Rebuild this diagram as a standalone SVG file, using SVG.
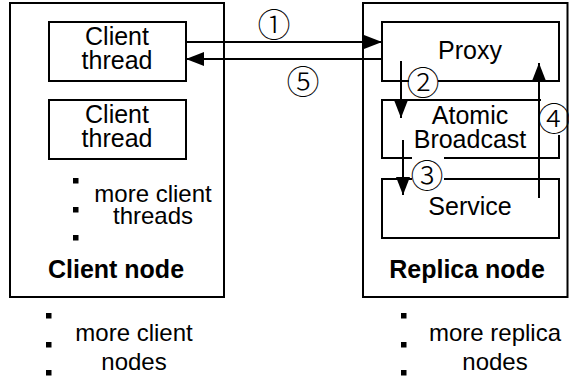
<svg xmlns="http://www.w3.org/2000/svg" width="569" height="379" viewBox="0 0 569 379">
  <style>
    .frame { fill: #fff; stroke: #000; stroke-width: 2; }
    .box { fill: #fff; stroke: #000; stroke-width: 2; }
    .txt { font-family: "Liberation Sans", Arial, Helvetica, sans-serif; font-size: 24px; fill: #000; text-anchor: middle; }
    .lbl { font-size: 25px; }
    .bold { font-weight: bold; font-size: 25px; }
    .num { font-family: "Noto Sans CJK JP", "DejaVu Sans", sans-serif; font-size: 33px; font-weight: 300; fill: #000; text-anchor: middle; }
    .bg { fill: #fff; stroke: none; }
    .wire { stroke: #000; stroke-width: 2; fill: none; }
    .dot { fill: #000; }
  </style>
  <defs>
    <marker id="head" markerUnits="userSpaceOnUse" markerWidth="18" markerHeight="14" refX="18" refY="7" orient="auto">
      <path d="M0,0 L18,7 L0,14 z" fill="#000"/>
    </marker>
  </defs>
  <rect width="569" height="379" fill="#fff"/>

  <!-- client side -->
  <g id="client-node">
    <rect class="frame" x="10" y="3" width="214" height="294"/>
    <text class="txt bold" x="116" y="278">Client node</text>
  </g>
  <g id="client-thread-1">
    <rect class="box" x="49" y="22" width="137" height="59"/>
    <text class="txt lbl" x="117" y="45">Client</text>
    <text class="txt lbl" x="117" y="69">thread</text>
  </g>
  <g id="client-thread-2">
    <rect class="box" x="49" y="100" width="137" height="59"/>
    <text class="txt lbl" x="117" y="123">Client</text>
    <text class="txt lbl" x="117" y="147">thread</text>
  </g>
  <g id="more-client-threads">
    <rect class="dot" x="73" y="178" width="5.5" height="5.5"/>
    <rect class="dot" x="73" y="207" width="5.5" height="5.5"/>
    <rect class="dot" x="73" y="235" width="5.5" height="5.5"/>
    <text class="txt" x="153" y="202">more client</text>
    <text class="txt" x="153" y="224">threads</text>
  </g>

  <!-- replica side -->
  <g id="replica-node">
    <rect class="frame" x="363" y="3" width="204.5" height="294"/>
    <text class="txt bold" x="467" y="278">Replica node</text>
  </g>
  <g id="proxy">
    <rect class="box" x="382" y="22" width="177" height="59"/>
    <text class="txt lbl" x="470" y="59">Proxy</text>
  </g>
  <g id="atomic-broadcast">
    <rect class="box" x="382" y="100" width="177" height="58"/>
    <text class="txt lbl" x="470" y="124">Atomic</text>
    <text class="txt lbl" x="470" y="148">Broadcast</text>
  </g>
  <g id="service">
    <rect class="box" x="382" y="179" width="177" height="59"/>
    <text class="txt lbl" x="470" y="215">Service</text>
  </g>

  <!-- nodes below the frames -->
  <g id="more-client-nodes">
    <rect class="dot" x="46" y="313" width="5.5" height="5.5"/>
    <rect class="dot" x="46" y="342" width="5.5" height="5.5"/>
    <rect class="dot" x="46" y="370" width="5.5" height="5.5"/>
    <text class="txt" x="134" y="341">more client</text>
    <text class="txt" x="134" y="370">nodes</text>
  </g>
  <g id="more-replica-nodes">
    <rect class="dot" x="401" y="313" width="5.5" height="5.5"/>
    <rect class="dot" x="401" y="342" width="5.5" height="5.5"/>
    <rect class="dot" x="401" y="370" width="5.5" height="5.5"/>
    <text class="txt" x="495" y="341">more replica</text>
    <text class="txt" x="495" y="370">nodes</text>
  </g>

  <!-- step labels; white pads cut the box outlines behind them -->
  <g id="step-labels">
    <rect class="bg" x="409" y="69" width="29" height="25"/>
    <rect class="bg" x="412" y="156" width="32" height="32"/>
    <rect class="bg" x="541" y="98" width="25" height="37"/>
    <text class="num" x="274" y="37">①</text>
    <text class="num" x="423" y="95">②</text>
    <text class="num" x="427" y="188">③</text>
    <text class="num" x="554" y="131">④</text>
    <text class="num" x="303" y="94">⑤</text>
  </g>

  <g id="connectors">
    <line class="wire" x1="186" y1="42" x2="382" y2="42" marker-end="url(#head)"/>
    <line class="wire" x1="382" y1="59" x2="186" y2="59" marker-end="url(#head)"/>
    <line class="wire" x1="401" y1="61" x2="401" y2="118" marker-end="url(#head)"/>
    <line class="wire" x1="403" y1="140" x2="403" y2="195" marker-end="url(#head)"/>
    <line class="wire" x1="539" y1="198" x2="539" y2="63" marker-end="url(#head)"/>
  </g>
</svg>
